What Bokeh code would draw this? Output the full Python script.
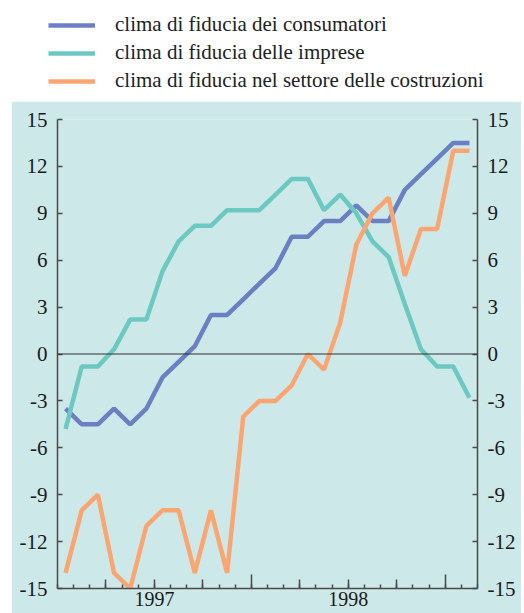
from bokeh.plotting import figure
from bokeh.models import (Range1d, LinearAxis, FixedTicker, Span, Legend, LegendItem,
                          Spacer)
from bokeh.layouts import column, row
from bokeh.embed import file_html
from bokeh.resources import INLINE

# ---- data (monthly, Jan 1997 - Feb 1999) ----
months = ["1997-01", "1997-02", "1997-03", "1997-04", "1997-05", "1997-06",
          "1997-07", "1997-08", "1997-09", "1997-10", "1997-11", "1997-12",
          "1998-01", "1998-02", "1998-03", "1998-04", "1998-05", "1998-06",
          "1998-07", "1998-08", "1998-09", "1998-10", "1998-11", "1998-12",
          "1999-01", "1999-02"]
consumatori = [-3.5, -4.5, -4.5, -3.5, -4.5, -3.5, -1.5, -0.5, 0.5, 2.5, 2.5, 3.5, 4.5,
               5.5, 7.5, 7.5, 8.5, 8.5, 9.5, 8.5, 8.5, 10.5, 11.5, 12.5, 13.5, 13.5]
imprese = [-4.8, -0.8, -0.8, 0.3, 2.2, 2.2, 5.3, 7.2, 8.2, 8.2, 9.2, 9.2, 9.2,
           10.2, 11.2, 11.2, 9.2, 10.2, 9.0, 7.2, 6.2, 3.2, 0.3, -0.8, -0.8, -2.8]
costruzioni = [-14, -10, -9, -14, -15, -11, -10, -10, -14, -10, -14, -4, -3,
               -3, -2, 0, -1, 2, 7, 9, 10, 5, 8, 8, 13, 13]
years = ["1997", "1998"]
y_ticks = [-15, -12, -9, -6, -3, 0, 3, 6, 9, 12, 15]
series_names = ["clima di fiducia dei consumatori",
                "clima di fiducia delle imprese",
                "clima di fiducia nel settore delle costruzioni"]
colors = ["#6b7fc3", "#6cc9c1", "#fba672"]

BG = "#cce8e8"
FONT = "Liberation Serif"
AX = "#4a4a4a"

n = len(months)
x = [i + 0.5 for i in range(n)]
year_starts = [i for i, m in enumerate(months) if m.endswith("-01")]
quarter_starts = [i for i, m in enumerate(months)
                  if m[-2:] in ("04", "07", "10")]
all_month_ticks = list(range(n + 1))
year_mid = {year_starts[k] + 6: years[k] for k in range(len(years))}

# ---- legend figure ----
leg = figure(width=524, height=101, x_range=Range1d(0, 1), y_range=Range1d(0, 1),
             toolbar_location=None, output_backend="svg", min_border=0)
leg.axis.visible = False
leg.grid.visible = False
leg.outline_line_color = None
items = []
nan = float("nan")
for name, c in zip(series_names, colors):
    r = leg.line(x=[nan, nan], y=[nan, nan], line_color=c, line_width=4.5)
    items.append(LegendItem(label=name, renderers=[r]))
legend = Legend(items=items, location=(48, 8), orientation="vertical",
                glyph_width=47, glyph_height=20, label_height=20,
                label_standoff=20, spacing=3, padding=0, margin=0,
                border_line_color=None, background_fill_alpha=0,
                label_text_font=FONT, label_text_font_size="21px",
                label_text_color="#222222")
leg.add_layout(legend, "center")

# ---- main figure ----
p = figure(width=510, height=512, x_range=Range1d(0, n), y_range=Range1d(-15, 15),
           toolbar_location=None, output_backend="svg",
           x_axis_location=None, y_axis_location=None,
           min_border_left=46, min_border_right=44, min_border_top=18,
           min_border_bottom=25)
p.background_fill_color = BG
p.border_fill_color = BG
p.outline_line_color = None
p.grid.visible = False

p.add_layout(Span(location=0, dimension="width", line_color="#333333", line_width=1.2))

for vals, c in zip([consumatori, imprese, costruzioni], colors):
    p.line(x=x, y=vals, line_color=c, line_width=4.5)


def style_y(ax):
    ax.ticker = FixedTicker(ticks=y_ticks)
    ax.major_label_overrides = {t: str(t) for t in y_ticks}
    ax.major_tick_in = 5
    ax.major_tick_out = 0
    ax.minor_tick_line_color = None
    ax.axis_line_color = AX
    ax.axis_line_width = 1.5
    ax.major_tick_line_color = AX
    ax.major_tick_line_width = 1.5
    ax.major_label_text_font = FONT
    ax.major_label_text_font_size = "21px"
    ax.major_label_text_color = "#1a1a1a"
    ax.major_label_standoff = 10


yl = LinearAxis()
style_y(yl)
p.add_layout(yl, "left")
yr = LinearAxis()
style_y(yr)
yr.major_label_standoff = 10
p.add_layout(yr, "right")

xb = LinearAxis()
xb.ticker = FixedTicker(ticks=quarter_starts, minor_ticks=all_month_ticks)
xb.major_label_overrides = {q: year_mid.get(q, "") for q in quarter_starts}
xb.major_label_text_font = FONT
xb.major_label_text_font_size = "20px"
xb.major_label_text_color = "#1a1a1a"
xb.major_label_standoff = 3
xb.major_tick_in = 9
xb.major_tick_out = 0
xb.minor_tick_in = 4
xb.minor_tick_out = 0
xb.axis_line_color = AX
xb.axis_line_width = 1.5
xb.major_tick_line_color = AX
xb.major_tick_line_width = 1.5
xb.minor_tick_line_color = AX
xb.minor_tick_line_width = 1.5
p.add_layout(xb, "below")

xy = LinearAxis(fixed_location=-15)
xy.ticker = FixedTicker(ticks=year_starts[1:])
xy.major_label_overrides = {t: "" for t in year_starts}
xy.major_label_text_font_size = "0px"
xy.major_label_standoff = 0
xy.major_tick_in = 14
xy.major_tick_out = 0
xy.minor_tick_line_color = None
xy.axis_line_color = None
xy.major_tick_line_color = AX
xy.major_tick_line_width = 1.5
p.add_layout(xy, "below")

layout = column(leg, row(Spacer(width=11), p))
open("out.html", "w").write(file_html(layout, INLINE))
